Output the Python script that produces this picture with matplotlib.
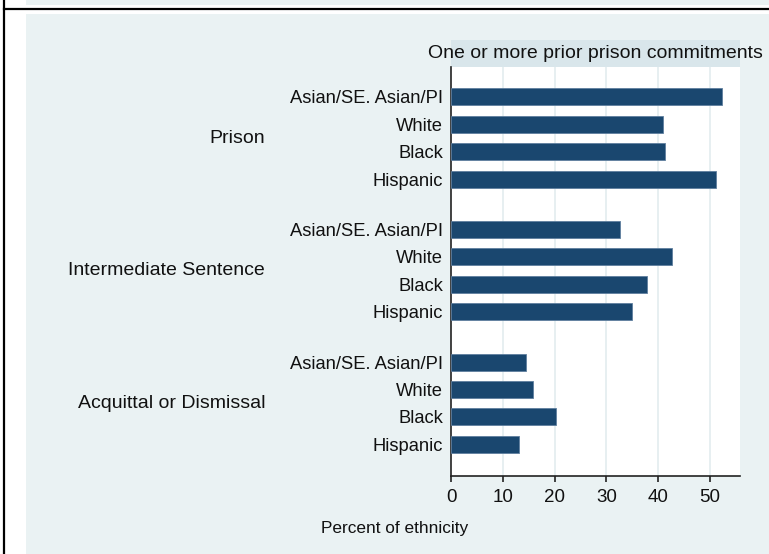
import numpy as np
import matplotlib
matplotlib.use('Agg')
import matplotlib.pyplot as plt
import matplotlib.transforms as mtransforms
from matplotlib.patches import Rectangle
from matplotlib.lines import Line2D

plt.rcParams['font.family'] = ['Liberation Sans', 'DejaVu Sans']

# data
groups = ['Prison', 'Intermediate Sentence', 'Acquittal or Dismissal']
ethnicities = ['Asian/SE. Asian/PI', 'White', 'Black', 'Hispanic']
prison = [52.3, 41.0, 41.3, 51.2]
intermediate = [32.7, 42.8, 37.9, 35.0]
acquittal = [14.5, 15.8, 20.2, 13.2]
xticks = [0, 10, 20, 30, 40, 50]
subtitle = 'One or more prior prison commitments'
xtitle = 'Percent of ethnicity'

W, H = 769, 554
bar_col = '#1a476f'
bg_col = '#eaf2f3'
strip_col = '#d9e6eb'
grid_col = '#e3ecef'

fig = plt.figure(figsize=(W / 100, H / 100), dpi=100)
fig.patch.set_facecolor('white')

def fx(px):
    return px / W

def fy(py):
    return 1 - py / H

# graph region background + frame lines
fig.patches.append(Rectangle((fx(26), 0), 1 - fx(26), fy(14), transform=fig.transFigure,
                             facecolor=bg_col, edgecolor='none', zorder=-2))
fig.patches.append(Rectangle((fx(26), fy(5)), 1 - fx(26), 1 - fy(5), transform=fig.transFigure,
                             facecolor=bg_col, edgecolor='none', zorder=-2))
fig.lines.append(Line2D([fx(4), 1], [fy(8.5), fy(8.5)], transform=fig.transFigure,
                        color='black', lw=1.6, zorder=-1))
fig.lines.append(Line2D([fx(4), fx(4)], [0, 1], transform=fig.transFigure,
                        color='black', lw=1.6, zorder=-1))

# subtitle strip
x0, x1 = 451.2, 740
fig.patches.append(Rectangle((fx(x0), fy(66.7)), fx(x1) - fx(x0), fy(40) - fy(66.7),
                             transform=fig.transFigure, facecolor=strip_col,
                             edgecolor='none', zorder=-1))
fig.text(fx((x0 + x1) / 2), fy(53.5), subtitle, ha='center', va='center',
         fontsize=14, color='#111111', zorder=3)

ax = fig.add_axes([fx(x0), fy(476), fx(x1) - fx(x0), fy(66.7) - fy(476)])
ax.set_zorder(2)
ax.set_facecolor('white')

group_step = 4.83
vals = [prison, intermediate, acquittal]
ypos, widths, labels = [], [], []
for g, v in enumerate(vals):
    for i, val in enumerate(v):
        ypos.append(g * group_step + i)
        widths.append(val)
        labels.append(ethnicities[i])

ax.barh(ypos, widths, height=0.62, color=bar_col, edgecolor='#5f7f9f',
        linewidth=0.6, zorder=3)

ax.set_xlim(0, 55.86)
ax.set_ylim(ypos[-1] + 1.15, -1.1)

ax.set_xticks(xticks)
ax.set_xticklabels([str(t) for t in xticks], fontsize=13.5, color='#111111')
ax.set_yticks(ypos)
ax.set_yticklabels(labels, fontsize=13.2, color='#111111')
ax.tick_params(axis='y', length=0, pad=5.8)
ax.tick_params(axis='x', length=4, width=1.3, color='#333333', pad=5.5)

for t in xticks[1:]:
    ax.axvline(t, color=grid_col, lw=1.2, zorder=1)

for s in ['top', 'right']:
    ax.spines[s].set_visible(False)
ax.spines['left'].set_color('#222222')
ax.spines['bottom'].set_color('#222222')
ax.spines['left'].set_linewidth(1.2)
ax.spines['bottom'].set_linewidth(1.2)

# group labels
trans = mtransforms.blended_transform_factory(ax.transAxes, ax.transData)
lab_x = (265 - x0) / (x1 - x0)
for g, name in enumerate(groups):
    ax.text(lab_x, g * group_step + 1.5, name, transform=trans, ha='right',
            va='center', fontsize=14, color='#111111', clip_on=False)

fig.text(fx(395), fy(528), xtitle, ha='center', va='center', fontsize=12.4,
         color='#111111')

fig.savefig('out.png', dpi=100, facecolor=fig.get_facecolor())
